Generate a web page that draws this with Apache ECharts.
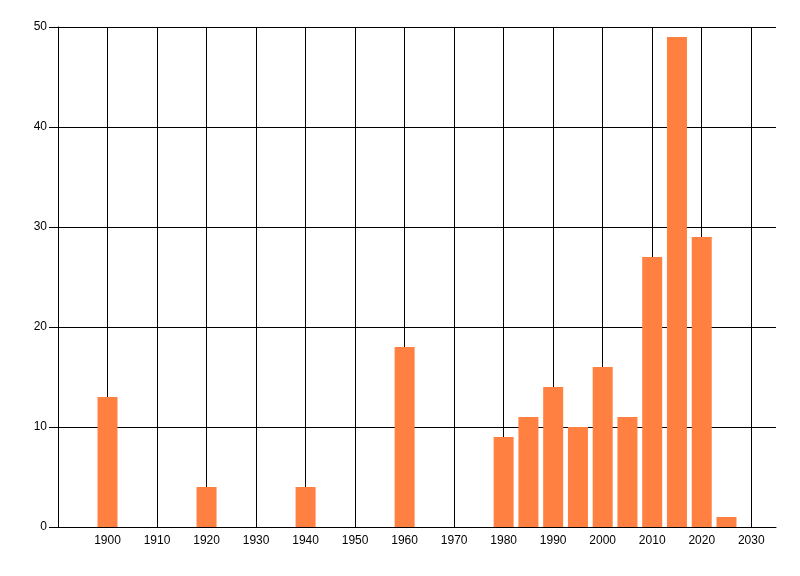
<!DOCTYPE html>
<html>
<head>
<meta charset="utf-8">
<script src="https://cdn.jsdelivr.net/npm/echarts@6/dist/echarts.min.js"></script>
<style>html,body{margin:0;padding:0;background:#fff;}#c{width:800px;height:576px;}</style>
</head>
<body>
<div id="c"></div>
<script>
const years = [1900, 1920, 1940, 1960, 1980, 1985, 1990, 1995, 2000, 2005, 2010, 2015, 2020, 2025];
const counts = [13, 4, 4, 18, 9, 11, 14, 10, 16, 11, 27, 49, 29, 1];

const FONT = '"Liberation Sans", Arial, sans-serif';
const chart = echarts.init(document.getElementById('c'));
chart.setOption({
  animation: false,
  backgroundColor: '#ffffff',
  grid: { left: 58, right: 24, top: 27, bottom: 49, containLabel: false },
  xAxis: {
    type: 'value', min: 1890, max: 2035, interval: 10,
    axisLine: { show: true, lineStyle: { color: '#000', width: 1 } },
    axisTick: { show: false },
    axisLabel: {
      color: '#000', fontSize: 12, fontFamily: FONT, margin: 8,
      showMinLabel: false, showMaxLabel: false,
      formatter: v => (v % 10 === 0 && v > 1890 && v <= 2030) ? String(v) : ''
    },
    splitLine: { show: true, showMinLine: false, showMaxLine: false, lineStyle: { color: '#000', width: 1 } }
  },
  yAxis: {
    type: 'value', min: 0, max: 50, interval: 10,
    axisLine: { show: true, lineStyle: { color: '#000', width: 1 } },
    axisTick: { show: true, length: 9, lineStyle: { color: '#000' } },
    axisLabel: { color: '#000', fontSize: 12, fontFamily: FONT, margin: 11 },
    splitLine: { show: true, lineStyle: { color: '#000', width: 1 } }
  },
  series: [{
    type: 'bar',
    data: years.map((y, i) => [y, counts[i]]),
    barWidth: 20,
    itemStyle: { color: '#FF8040' }
  }]
});
</script>
</body>
</html>
